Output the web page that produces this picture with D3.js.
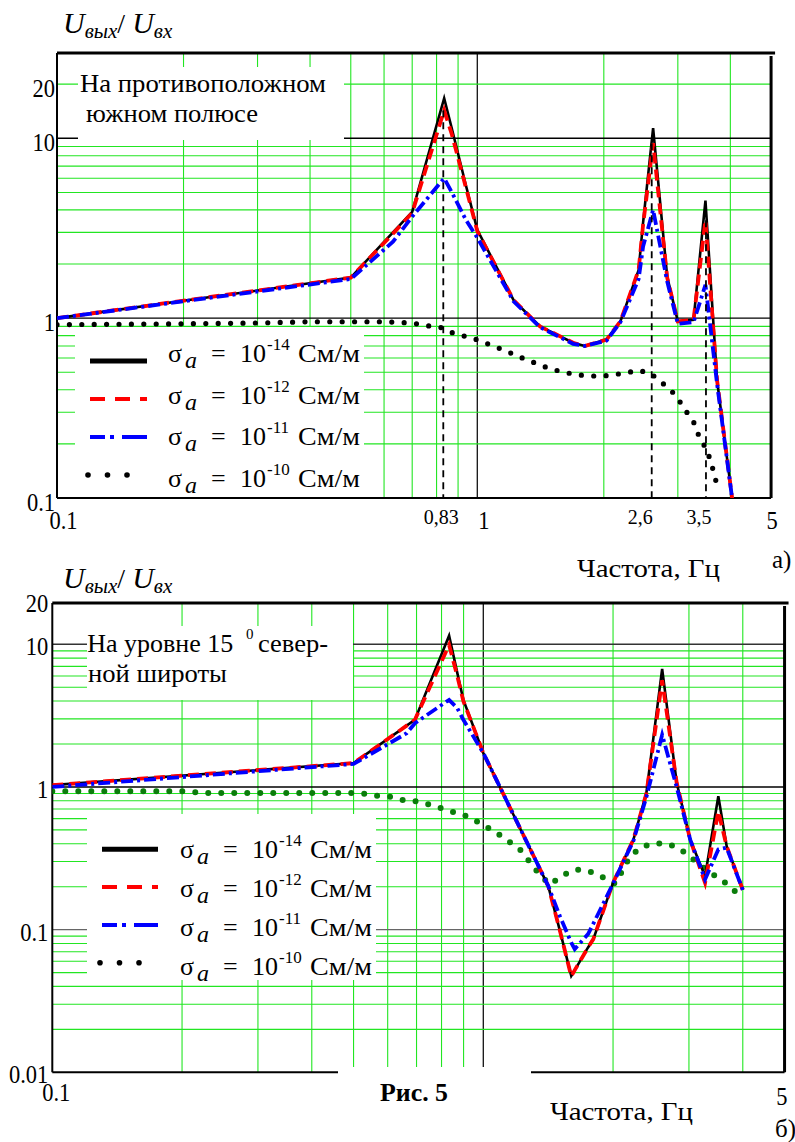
<!DOCTYPE html>
<html><head><meta charset="utf-8">
<script src="https://cdn.jsdelivr.net/npm/d3@7"></script>
<style>
body{margin:0;background:#fff}
svg{display:block}
</style>
</head><body>
<svg id="c" width="795" height="1142" font-family="'Liberation Serif', 'Times New Roman', 'DejaVu Serif', serif"></svg>
<script>
// ================= DATA =================
// Panel a) — on the opposite south pole
const freqA = [0.1,0.5,0.63,0.7,0.834,0.87,0.94,1.0,1.22,1.41,1.69,1.80,2.03,2.19,2.42,2.48,2.62,2.83,3.0,3.27,3.49,3.72,4.05];
const aSigma14 = [1.0,1.68,3.0,3.9,16.7,11.3,5.45,3.1,1.26,0.90,0.73,0.70,0.76,0.96,1.85,3.4,11.4,1.70,0.96,0.98,4.5,0.45,0.095];
const aSigma12 = [1.0,1.68,2.95,3.85,14.3,10.5,5.3,3.05,1.26,0.90,0.73,0.70,0.76,0.96,1.85,3.3,9.4,1.68,0.96,0.98,3.5,0.45,0.095];
const aSigma11 = [1.0,1.65,2.66,3.67,6.0,5.0,3.51,2.8,1.24,0.89,0.72,0.70,0.75,0.95,1.65,2.5,4.0,1.6,0.93,0.95,1.53,0.43,0.095];
const freqA10 = [0.1,0.2,0.3,0.4,0.6,0.7,0.762,0.815,0.869,1.0,1.14,1.31,1.50,1.72,1.96,2.25,2.41,2.58,2.76,2.96,3.11,3.28,3.37,3.52,3.61,3.68,3.76];
const aSigma10 = [0.92,0.93,0.94,0.955,0.955,0.94,0.906,0.891,0.832,0.758,0.673,0.587,0.52,0.484,0.474,0.495,0.512,0.495,0.435,0.375,0.314,0.261,0.22,0.184,0.154,0.129,0.108];
const markerFreqs = [0.83,2.6,3.5];
const markerTops = [14.3,9.4,3.5];
const markerLabels = ["0,83","2,6","3,5"];

// Panel б) — at 15° north latitude
const freqB = [0.1,0.5,0.664,0.694,0.833,0.87,0.899,1.0,1.415,1.506,1.60,1.63,1.75,1.80,2.0,2.23,2.39,2.60,2.81,3.02,3.27,3.51,3.67,4.0];
const bSigma14 = [1.03,1.47,2.69,2.96,11.5,6.33,4.08,1.73,0.202,0.098,0.0474,0.052,0.075,0.0858,0.213,0.428,0.908,6.72,1.07,0.428,0.237,0.86,0.384,0.19];
const bSigma12 = [1.03,1.47,2.69,2.96,9.9,6.0,4.0,1.73,0.202,0.098,0.047,0.052,0.075,0.0858,0.213,0.428,0.9,5.6,1.07,0.428,0.213,0.675,0.384,0.19];
const bSigma11 = [1.0,1.45,2.38,2.8,4.08,3.57,2.96,1.73,0.202,0.124,0.081,0.073,0.093,0.11,0.21,0.42,0.85,2.32,1.0,0.428,0.225,0.365,0.375,0.19];
const freqB10 = [0.1,0.2,0.23,0.495,0.531,0.566,0.613,0.655,0.70,0.752,0.805,0.864,0.927,0.995,1.065,1.139,1.216,1.283,1.354,1.428,1.528,1.641,1.758,1.882,2.02,2.10,2.18,2.31,2.47,2.65,2.84,3.04,3.25,3.50,3.72,3.95];
const bSigma10 = [0.932,0.932,0.908,0.908,0.894,0.87,0.851,0.806,0.793,0.752,0.705,0.658,0.617,0.545,0.485,0.421,0.365,0.297,0.241,0.207,0.24,0.264,0.257,0.235,0.21,0.257,0.318,0.375,0.402,0.402,0.375,0.318,0.271,0.231,0.204,0.17];

// Tick labels
const yTicksA = [0.1,1,10,20], yTickLabelsA = ["0.1","1","10","20"];
const xTicksA = [0.1,1,5], xTickLabelsA = ["0.1","1","5"];
const yTicksB = [0.01,0.1,1,10,20], yTickLabelsB = ["0.01","0.1","1","10","20"];
const xTicksB = [0.1,5], xTickLabelsB = ["0.1","5"];
const legendExps = ["-14","-12","-11","-10"];
const gridMant = [2,3,4,5,6,7,8,9];

// ================= DRAW =================
const FONT = "'Liberation Serif', 'Times New Roman', 'DejaVu Serif', serif";
const svg = d3.select("#c");
const GREEN = "#22e622";

function addText(parent, str, x, y, o = {}) {
  const t = parent.append("text")
    .attr("transform", `translate(${x},${y})` + (o.sy ? ` scale(1,${o.sy})` : ""))
    .attr("font-family", FONT)
    .attr("font-size", o.size || 23)
    .attr("text-anchor", o.anchor || "start")
    .attr("font-style", o.italic ? "italic" : null)
    .attr("font-weight", o.bold ? "bold" : null)
    .attr("fill", "#000")
    .text(str);
  if (o.len) t.attr("textLength", o.len).attr("lengthAdjust", "spacingAndGlyphs");
  return t;
}

function title(y) {
  const t = svg.append("text").attr("x", 63).attr("y", y).attr("font-family", FONT).attr("fill", "#000");
  t.append("tspan").attr("font-size", 30).attr("font-style", "italic").text("U");
  t.append("tspan").attr("font-size", 21).attr("font-style", "italic").attr("dy", 5).text("вых");
  t.append("tspan").attr("font-size", 28).attr("dy", -5).text("/ ");
  t.append("tspan").attr("font-size", 30).attr("font-style", "italic").text("U");
  t.append("tspan").attr("font-size", 21).attr("font-style", "italic").attr("dy", 5).text("вх");
}

function legendRow(g, sx0, sx1, sy, tx, ty, idx) {
  const ls = g.append("g");
  if (idx === 0) ls.append("line").attr("x1", sx0).attr("x2", sx1).attr("y1", sy).attr("y2", sy)
    .attr("stroke", "#000").attr("stroke-width", 5);
  if (idx === 1) ls.append("line").attr("x1", sx0).attr("x2", sx1).attr("y1", sy).attr("y2", sy)
    .attr("stroke", "#ff0000").attr("stroke-width", 4).attr("stroke-dasharray", "15 10");
  if (idx === 2) ls.append("line").attr("x1", sx0).attr("x2", sx1).attr("y1", sy).attr("y2", sy)
    .attr("stroke", "#0000ff").attr("stroke-width", 4).attr("stroke-dasharray", "15 5 4 8 30");
  if (idx === 3) [0, 1, 2].forEach(k => ls.append("circle").attr("cx", sx0 - 2 + k * 19.5).attr("cy", sy)
    .attr("r", 2.8).attr("fill", "#000"));
  addText(g, "σ", tx, ty, {size: 26});
  addText(g, "a", tx + 17, ty + 6, {size: 24, italic: true});
  addText(g, "=", tx + 43, ty, {size: 26});
  addText(g, "10", tx + 72, ty, {size: 26});
  addText(g, legendExps[idx], tx + 99, ty - 12, {size: 17});
  addText(g, "См/м", tx + 130, ty, {size: 26, len: 62});
}

function drawPanel(cfg) {
  const g = svg.append("g");
  const x = d3.scaleLog().domain([0.1, 1]).range([cfg.x0, cfg.xOne]);
  const y = d3.scaleLog().domain(cfg.yDom).range(cfg.yRange);
  const xR = x(5);
  const yB = cfg.yBot, yT = cfg.yTop;

  const vGreen = [0.1, 1].flatMap(d => gridMant.map(m => +(m * d).toFixed(3))).filter(v => v < 5);
  g.selectAll(null).data(vGreen).join("line")
    .attr("x1", d => x(d)).attr("x2", d => x(d)).attr("y1", yT).attr("y2", yB)
    .attr("stroke", GREEN).attr("stroke-width", 1.1);
  g.append("line").attr("x1", x(1)).attr("x2", x(1)).attr("y1", yT).attr("y2", yB)
    .attr("stroke", "#111").attr("stroke-width", 1.3);
  const hGreen = cfg.decades.flatMap(d => gridMant.map(m => +(m * d).toFixed(4))).concat(cfg.extraGreen);
  g.selectAll(null).data(hGreen).join("line")
    .attr("x1", cfg.x0).attr("x2", xR).attr("y1", d => y(d)).attr("y2", d => y(d))
    .attr("stroke", GREEN).attr("stroke-width", 1.1);
  g.selectAll(null).data(cfg.majors).join("line")
    .attr("x1", cfg.x0).attr("x2", xR).attr("y1", d => y(d[0])).attr("y2", d => y(d[0]))
    .attr("stroke", d => d[1]).attr("stroke-width", 1.4);

  cfg.boxes.forEach(b => g.append("rect").attr("x", b[0]).attr("y", b[1]).attr("width", b[2] - b[0]).attr("height", b[3] - b[1]).attr("fill", "#fff"));

  g.append("line").attr("x1", cfg.x0).attr("x2", xR + 4).attr("y1", yT).attr("y2", yT).attr("stroke", "#000").attr("stroke-width", 3);
  g.append("line").attr("x1", cfg.x0).attr("x2", cfg.x0).attr("y1", yT).attr("y2", yB).attr("stroke", "#000").attr("stroke-width", 2);
  g.append("line").attr("x1", xR).attr("x2", xR).attr("y1", yT + 3).attr("y2", yB).attr("stroke", "#000").attr("stroke-width", 3);
  g.append("line").attr("x1", cfg.x0).attr("x2", xR).attr("y1", yB).attr("y2", yB).attr("stroke", "#000").attr("stroke-width", 2);
  if (cfg.gap) g.append("rect").attr("x", cfg.gap[0]).attr("y", cfg.gap[1]).attr("width", cfg.gap[2] - cfg.gap[0]).attr("height", cfg.gap[3] - cfg.gap[1]).attr("fill", "#fff");

  const clipId = "clip" + cfg.id;
  svg.append("clipPath").attr("id", clipId).append("rect")
    .attr("x", cfg.x0).attr("y", yT).attr("width", xR - cfg.x0).attr("height", yB - yT);
  const cg = g.append("g").attr("clip-path", `url(#${clipId})`);
  const line = d3.line().x(d => x(d[0])).y(d => y(d[1]));
  const zip = (f, v) => f.map((fi, i) => [fi, v[i]]);

  cg.append("path").attr("d", line(zip(cfg.f10, cfg.s10))).attr("fill", "none")
    .attr("stroke", cfg.dotColor).attr("stroke-width", cfg.dotW).attr("stroke-linecap", "round")
    .attr("stroke-dasharray", `0 ${cfg.dotGap}`);
  cg.append("path").attr("d", line(zip(cfg.f, cfg.s14))).attr("fill", "none")
    .attr("stroke", "#000").attr("stroke-width", 2.6);
  cg.append("path").attr("d", line(zip(cfg.f, cfg.s12))).attr("fill", "none")
    .attr("stroke", "#ff0000").attr("stroke-width", 3.8).attr("stroke-dasharray", "11 6");
  cg.append("path").attr("d", line(zip(cfg.f, cfg.s11))).attr("fill", "none")
    .attr("stroke", "#0000ff").attr("stroke-width", 3.8).attr("stroke-dasharray", "12 4 3 4");

  if (cfg.markers) {
    cfg.markers.f.forEach((mf, i) => {
      g.append("line").attr("x1", x(mf)).attr("x2", x(mf)).attr("y1", y(cfg.markers.top[i])).attr("y2", yB)
        .attr("stroke", "#000").attr("stroke-width", 1.8).attr("stroke-dasharray", "7 5");
      addText(g, cfg.markers.labels[i], x(mf) + cfg.markers.dx[i], yB + 26, {size: 20, anchor: "middle"});
    });
  }

  cfg.yTicks.forEach((v, i) => addText(g, cfg.yLabels[i], cfg.x0 - cfg.yLabDx, y(v) + cfg.yLabDy, {size: 22.5, anchor: "end", sy: 1.15}));
  cfg.xTicks.forEach((v, i) => addText(g, cfg.xLabels[i], x(v) + cfg.xLabDx[i], yB + cfg.xLabDy[i], {size: 22.5, anchor: "middle", sy: 1.15}));
  return {g, x, y};
}

// ---------- Panel a ----------
title(33);
drawPanel({
  id: "a", x0: 57, xOne: 477.3, yDom: [0.1, 10], yRange: [498, 138.3], yTop: 53, yBot: 498,
  decades: [0.1, 1], extraGreen: [20], majors: [[1, "#000"], [10, "#000"]],
  boxes: [[78, 67, 344, 140], [75, 327, 364, 497]], gap: null,
  f: freqA, s14: aSigma14, s12: aSigma12, s11: aSigma11, f10: freqA10, s10: aSigma10,
  dotColor: "#000", dotW: 5.2, dotGap: 12.4,
  markers: {f: markerFreqs, top: markerTops, labels: markerLabels, dx: [-2, -11.5, -7]},
  yTicks: yTicksA, yLabels: yTickLabelsA, yLabDx: 2, yLabDy: 12.5,
  xTicks: xTicksA, xLabels: xTickLabelsA, xLabDx: [6.5, 6.5, 1], xLabDy: [31, 31, 31]
});
addText(svg, "На противоположном", 80, 92, {size: 25, len: 246});
addText(svg, "южном полюсе", 86, 121.7, {size: 25, len: 172});
[0, 1, 2, 3].forEach(i => legendRow(svg, 90, 147, 361 + 38 * i, 168, 362 + 41.5 * i, i));
addText(svg, "Частота, Гц", 577, 577, {size: 25, len: 143});
addText(svg, "а)", 772, 568, {size: 25});

// ---------- Panel b ----------
title(588);
drawPanel({
  id: "b", x0: 52.3, xOne: 483.3, yDom: [0.01, 10], yRange: [1072.3, 644.3], yTop: 603, yBot: 1072.3,
  decades: [0.01, 0.1, 1], extraGreen: [], majors: [[0.1, "#666"], [1, "#000"], [10, "#333"]],
  boxes: [[87, 626, 353, 700], [87, 814, 376, 980]], gap: [338, 1067, 531, 1085],
  f: freqB, s14: bSigma14, s12: bSigma12, s11: bSigma11, f10: freqB10, s10: bSigma10,
  dotColor: "#0b7d0b", dotW: 6, dotGap: 13,
  markers: null,
  yTicks: yTicksB, yLabels: yTickLabelsB, yLabDx: 4, yLabDy: 11,
  xTicks: xTicksB, xLabels: xTickLabelsB, xLabDx: [4, -2.6], xLabDy: [29, 33]
});
addText(svg, "На уровне 15", 87.3, 651.7, {size: 25, len: 146});
addText(svg, "0", 246, 639, {size: 15});
addText(svg, "север-", 258, 651.7, {size: 25, len: 70});
addText(svg, "ной широты", 88, 681.7, {size: 25, len: 139});
[0, 1, 2, 3].forEach(i => legendRow(svg, 102, 158, 849.3 + 37.8 * i, 180, 858 + 39 * i, i));
addText(svg, "Рис. 5", 380, 1101, {size: 25, bold: true, len: 68});
addText(svg, "Частота, Гц", 550, 1120, {size: 25, len: 143});
addText(svg, "б)", 775, 1137, {size: 25});
</script>
</body></html>
